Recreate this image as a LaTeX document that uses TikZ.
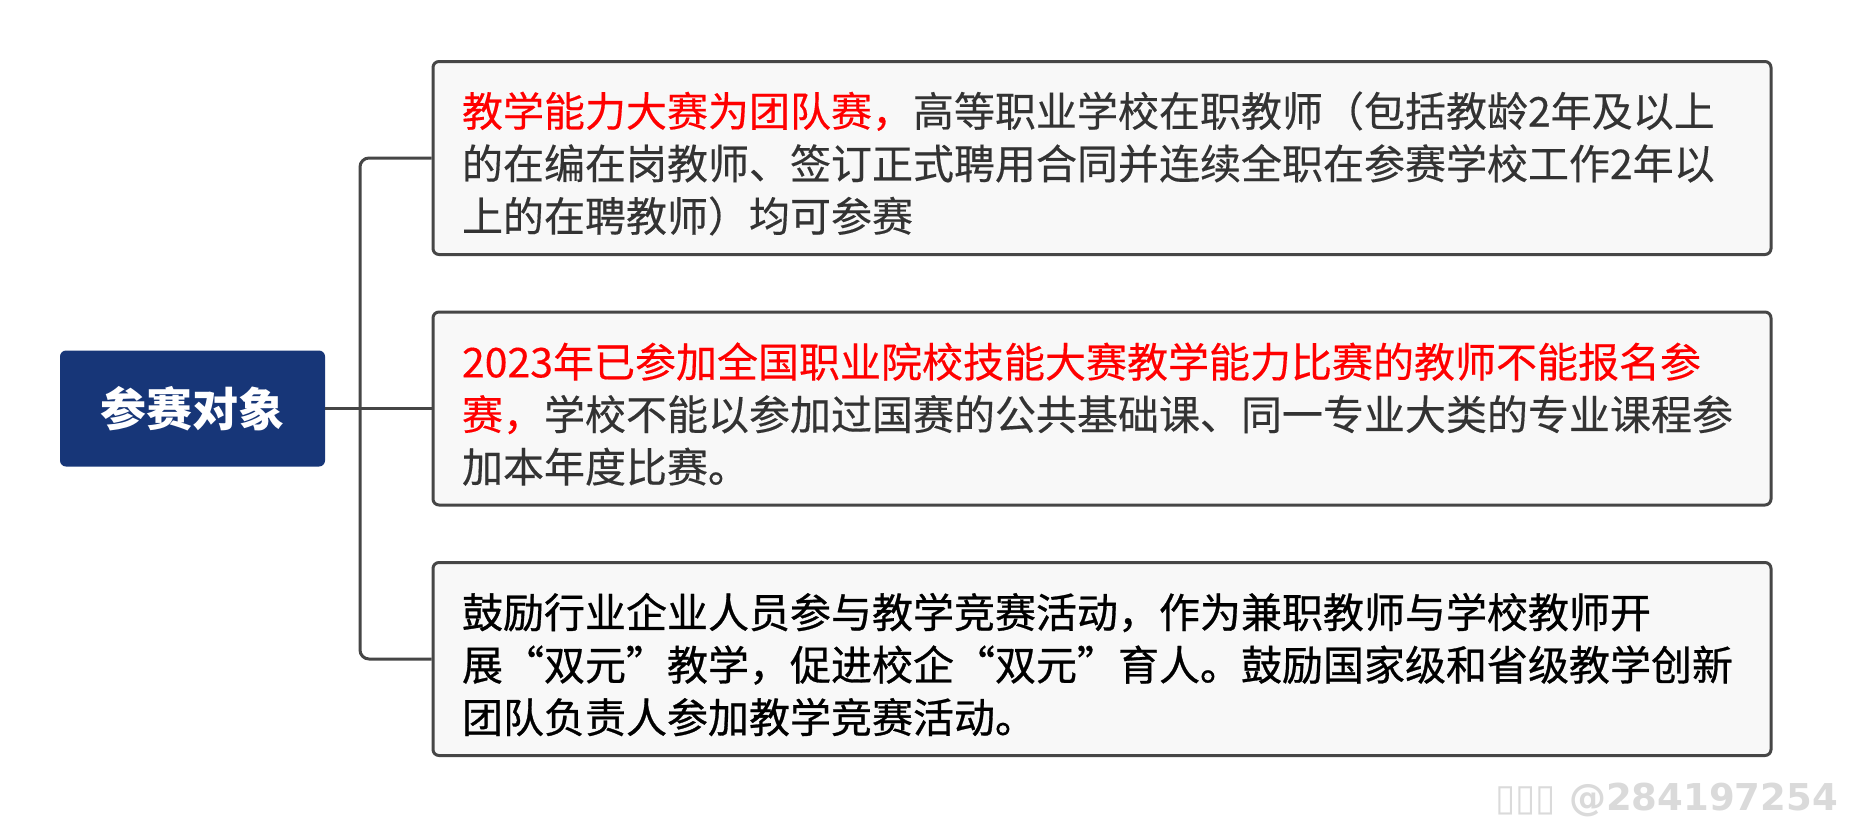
\documentclass[tikz,border=0pt]{standalone}
\usepackage{fontspec}
\setmainfont{Noto Sans CJK SC}
\newfontfamily\cjk{Noto Sans CJK SC}
\newfontfamily\cjkm[FakeBold=0.35]{Noto Sans CJK SC}
\newfontfamily\cjkb[FakeBold=0.7]{Noto Sans CJK SC}
\newfontfamily\wmfont{DejaVu Sans}
\definecolor{navy}{RGB}{23,54,120}
\definecolor{boxfill}{RGB}{248,248,248}
\definecolor{boxline}{RGB}{70,70,70}
\definecolor{txtgrey}{RGB}{51,51,51}
\definecolor{wmgrey}{RGB}{218,218,218}
\begin{document}
\begin{tikzpicture}[x=1pt,y=-1pt,
  rootbox/.style={fill=navy, rounded corners=6pt, minimum width=265pt, minimum height=116pt,
    inner sep=0pt, text=white, font=\cjk\bfseries\fontsize{46pt}{56pt}\selectfont},
  itembox/.style={draw=boxline, line width=3pt, fill=boxfill, rounded corners=6pt,
    minimum width=1338pt, minimum height=193pt, text width=1280pt, inner xsep=29pt,
    inner ysep=0pt, align=left, text=txtgrey, font=\cjkm\fontsize{41pt}{52.5pt}\selectfont,
    execute at begin node={\rule{0pt}{46pt}}},
  conn/.style={draw=boxline, line width=3pt, rounded corners=9pt},
  wm/.style={text=wmgrey, font=\wmfont\bfseries\fontsize{37pt}{40pt}\selectfont, inner sep=0pt}]
\useasboundingbox (0,0) rectangle (1861,819);
\fill[white] (0,0) rectangle (1861,819);

\node[rootbox] (root) at (192.5,408.5) {参赛对象};

\node[itembox] (b1) at (1102,158) {\textcolor{red}{教学能力大赛为团队赛，}高等职业学校在职教师（包括教龄2年及以上\\的在编在岗教师、签订正式聘用合同并连续全职在参赛学校工作2年以\\上的在聘教师）均可参赛};

\node[itembox] (b2) at (1102,408.5) {\textcolor{red}{2023年已参加全国职业院校技能大赛教学能力比赛的教师不能报名参}\\\textcolor{red}{赛，}学校不能以参加过国赛的公共基础课、同一专业大类的专业课程参\\加本年度比赛。};

\node[itembox, text=black, font=\cjkb\fontsize{41pt}{52.5pt}\selectfont] (b3) at (1102,659) {鼓励行业企业人员参与教学竞赛活动，作为兼职教师与学校教师开\\展“双元”教学，促进校企“双元”育人。鼓励国家级和省级教学创新\\团队负责人参加教学竞赛活动。};

\coordinate (jn) at (360,408.5);
\draw[conn] (root.east) -- (jn) -- (b2.west);
\draw[conn] (jn) |- (b1.west);
\draw[conn] (jn) |- (b3.west);

\node[wm, anchor=base east] (wmark) at (1838,810) {▯▯▯ @284197254};
\end{tikzpicture}
\end{document}
